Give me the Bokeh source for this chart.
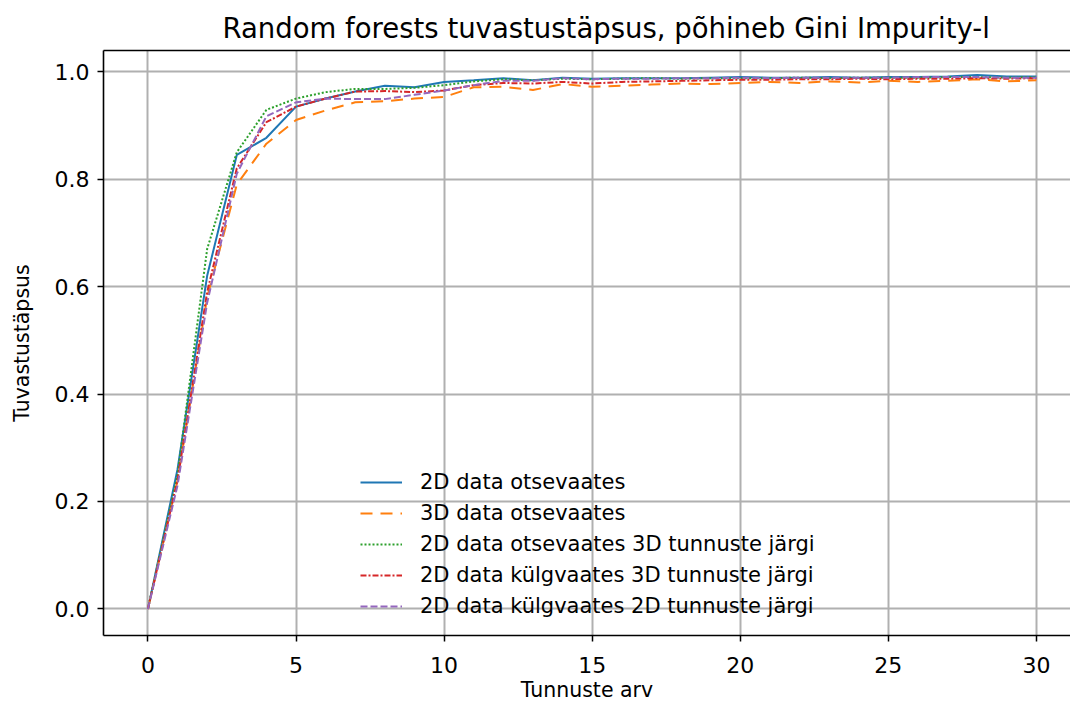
from bokeh.plotting import figure
from bokeh.models import (ColumnDataSource, Legend, LegendItem, LinearAxis,
                          FixedTicker, Range1d, PrintfTickFormatter)
from bokeh.embed import file_html
from bokeh.resources import INLINE

features = list(range(31))

data_2d_front = [0, 0.26, 0.62, 0.845, 0.877, 0.935, 0.950, 0.963, 0.974, 0.971,
                 0.981, 0.984, 0.988, 0.984, 0.989, 0.987, 0.988, 0.988, 0.988, 0.989,
                 0.990, 0.989, 0.989, 0.990, 0.989, 0.990, 0.990, 0.991, 0.994, 0.991, 0.991]
data_3d_front = [0, 0.24, 0.58, 0.79, 0.866, 0.910, 0.928, 0.943, 0.945, 0.950,
                 0.953, 0.971, 0.972, 0.966, 0.977, 0.972, 0.974, 0.976, 0.978, 0.977,
                 0.979, 0.981, 0.979, 0.982, 0.980, 0.983, 0.981, 0.983, 0.986, 0.982, 0.984]
data_2d_front_3dfeat = [0, 0.25, 0.67, 0.850, 0.929, 0.950, 0.962, 0.968, 0.968, 0.970,
                        0.975, 0.982, 0.986, 0.984, 0.987, 0.986, 0.987, 0.988, 0.987, 0.988,
                        0.988, 0.988, 0.989, 0.988, 0.989, 0.989, 0.989, 0.990, 0.990, 0.989, 0.990]
data_2d_side_3dfeat = [0, 0.24, 0.59, 0.820, 0.906, 0.935, 0.950, 0.963, 0.964, 0.962,
                       0.965, 0.975, 0.979, 0.978, 0.981, 0.978, 0.981, 0.982, 0.983, 0.984,
                       0.985, 0.985, 0.986, 0.986, 0.987, 0.986, 0.987, 0.987, 0.988, 0.987, 0.988]
data_2d_side_2dfeat = [0, 0.23, 0.57, 0.810, 0.917, 0.943, 0.950, 0.949, 0.949, 0.957,
                       0.965, 0.975, 0.983, 0.983, 0.988, 0.986, 0.987, 0.987, 0.988, 0.988,
                       0.989, 0.988, 0.989, 0.989, 0.989, 0.989, 0.990, 0.990, 0.990, 0.989, 0.989]

labels = ["2D data otsevaates", "3D data otsevaates",
          "2D data otsevaates 3D tunnuste järgi",
          "2D data külgvaates 3D tunnuste järgi",
          "2D data külgvaates 2D tunnuste järgi"]
series = [data_2d_front, data_3d_front, data_2d_front_3dfeat,
          data_2d_side_3dfeat, data_2d_side_2dfeat]
colors = ["#1f77b4", "#ff7f0e", "#2ca02c", "#d62728", "#9467bd"]
dashes = ["solid", "12 8", "2 2", "6 2 2 2", "7 3"]

x_ticks = [0, 5, 10, 15, 20, 25, 30]
y_ticks = [0.0, 0.2, 0.4, 0.6, 0.8, 1.0]

FONT = "DejaVu Sans"

p = figure(width=1070, height=708, output_backend="svg", toolbar_location=None,
           x_range=Range1d(-1.5, 31.15), y_range=Range1d(-0.0495, 1.0395),
           title="Random forests tuvastustäpsus, põhineb Gini Impurity-l",
           min_border_left=103, min_border_right=0, min_border_top=50,
           min_border_bottom=73)
p.background_fill_color = "white"
p.border_fill_color = "white"
p.outline_line_color = None

p.title.text_font = FONT
p.title.text_font_size = "27.5px"
p.title.text_font_style = "normal"
p.title.text_color = "black"
p.title.align = "left"
p.title.offset = 119
p.title.standoff = 13

renderers = []
for ys, c, d in zip(series, colors, dashes):
    src = ColumnDataSource(dict(x=features, y=ys))
    r = p.line("x", "y", source=src, line_color=c, line_width=2, line_dash=d)
    renderers.append(r)

for ax in (p.xaxis[0], p.yaxis[0]):
    ax.axis_line_color = "black"
    ax.axis_line_width = 1.6
    ax.major_tick_line_color = "black"
    ax.major_tick_line_width = 1.5
    ax.major_tick_out = 6
    ax.major_tick_in = 0
    ax.minor_tick_line_color = None
    ax.major_label_text_font = FONT
    ax.major_label_text_font_size = "22px"
    ax.major_label_text_color = "black"
    ax.axis_label_text_font = FONT
    ax.axis_label_text_font_size = "20.5px"
    ax.axis_label_text_font_style = "normal"
    ax.axis_label_text_color = "black"

p.xaxis.major_label_standoff = 15
p.yaxis.major_label_standoff = 8
p.xaxis.ticker = FixedTicker(ticks=x_ticks)
p.yaxis.ticker = FixedTicker(ticks=y_ticks)
p.yaxis.formatter = PrintfTickFormatter(format="%.1f")
p.xaxis.axis_label = "Tunnuste arv"
p.yaxis.axis_label = "Tuvastustäpsus"
p.xaxis.axis_label_standoff = 2
p.yaxis.axis_label_standoff = 18

top_axis = LinearAxis(ticker=FixedTicker(ticks=[]), axis_line_color="black",
                      axis_line_width=1.6, major_tick_line_color=None,
                      minor_tick_line_color=None, major_label_text_font_size="0px")
p.add_layout(top_axis, "above")

p.xgrid.ticker = FixedTicker(ticks=x_ticks)
p.ygrid.ticker = FixedTicker(ticks=y_ticks)
p.grid.grid_line_color = "#b0b0b0"
p.grid.grid_line_width = 2

legend = Legend(items=[LegendItem(label=l, renderers=[r]) for l, r in zip(labels, renderers)],
                location=(257, 17), background_fill_alpha=0, border_line_color=None,
                label_text_font=FONT, label_text_font_size="21px",
                label_text_color="black",
                glyph_width=42, glyph_height=20, label_standoff=18,
                label_height=20, spacing=7, padding=10, margin=0)
p.add_layout(legend, "center")

open("out.html", "w").write(file_html(p, INLINE))
